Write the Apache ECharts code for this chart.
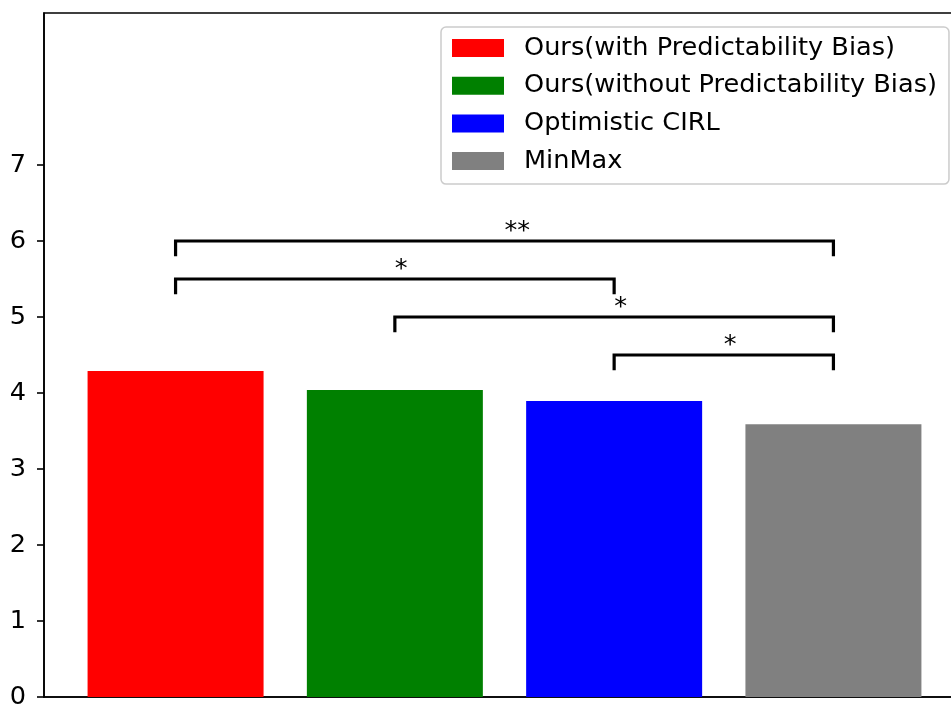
<!DOCTYPE html>
<html>
<head>
<meta charset="utf-8">
<script src="https://cdn.jsdelivr.net/npm/echarts@6/dist/echarts.min.js"></script>
<style>
html,body{margin:0;padding:0;background:#fff;}
#chart{width:951px;height:705px;}
</style>
</head>
<body>
<div id="chart"></div>
<script>
const methods = ['Ours(with Predictability Bias)', 'Ours(without Predictability Bias)', 'Optimistic CIRL', 'MinMax'];
const scores = [4.29, 4.04, 3.895, 3.59];
const colors = ['#ff0000', '#008000', '#0000ff', '#808080'];
const yTicks = [0, 1, 2, 3, 4, 5, 6, 7];
const bracketStart = [0, 0, 1, 2];
const bracketEnd = [3, 2, 3, 3];
const bracketHeight = [6, 5.5, 5, 4.5];
const bracketLabel = ['**', '*', '*', '*'];
const bracketDrop = 0.2;

const FONT = 'DejaVu Sans';
const chart = echarts.init(document.getElementById('chart'), null, {renderer: 'canvas'});

const barSeries = methods.map((m, i) => ({
  name: m,
  type: 'bar',
  data: [[i, scores[i]]],
  barWidth: 176,
  barGap: '-100%',
  itemStyle: {color: colors[i]},
  emphasis: {disabled: true},
  z: 2
}));

const bracketSeries = {
  type: 'custom',
  name: 'brackets',
  silent: true,
  z: 5,
  data: bracketStart.map((s, i) => [s, bracketEnd[i], bracketHeight[i]]),
  renderItem: function (params, api) {
    const x1 = api.value(0), x2 = api.value(1), h = api.value(2);
    const lbl = bracketLabel[params.dataIndex];
    const p1 = api.coord([x1, h - bracketDrop]);
    const p2 = api.coord([x1, h]);
    const p3 = api.coord([x2, h]);
    const p4 = api.coord([x2, h - bracketDrop]);
    const mid = api.coord([(x1 + x2) / 2, h]);
    return {
      type: 'group',
      children: [
        {
          type: 'polyline',
          shape: {points: [p1, p2, p3, p4]},
          style: {stroke: '#000', lineWidth: 3.2, fill: null, lineJoin: 'miter', lineCap: 'butt'}
        },
        {
          type: 'text',
          x: mid[0],
          y: mid[1] - 9.5,
          style: {
            text: lbl,
            fill: '#000',
            font: '25.6px "DejaVu Sans"',
            align: 'left',
            verticalAlign: 'middle'
          }
        }
      ]
    };
  }
};

chart.setOption({
  animation: false,
  backgroundColor: '#fff',
  textStyle: {fontFamily: FONT},
  grid: {
    left: 44, right: -14, top: 13, bottom: 8,
    containLabel: false,
    outerBoundsMode: 'none',
    show: true, borderColor: '#000', borderWidth: 1.6, backgroundColor: 'transparent'
  },
  legend: {
    data: methods,
    orient: 'vertical',
    left: 441,
    top: 27,
    padding: [8, 12, 10, 11],
    itemWidth: 52,
    itemHeight: 18,
    itemGap: 11.7,
    icon: 'rect',
    backgroundColor: 'rgba(255,255,255,0.8)',
    borderColor: '#cccccc',
    borderWidth: 1.5,
    borderRadius: 5,
    selectedMode: false,
    textStyle: {
      fontFamily: FONT,
      fontSize: 25.6,
      lineHeight: 25,
      color: '#000',
      padding: [0, 0, 0, 15]
    }
  },
  xAxis: {
    type: 'value',
    min: -0.6,
    max: 3.6,
    axisLine: {show: true, onZero: false, lineStyle: {color: '#000', width: 1.6}},
    axisTick: {show: false},
    axisLabel: {show: false},
    splitLine: {show: false}
  },
  yAxis: {
    type: 'value',
    min: 0,
    max: 9,
    interval: 1,
    axisLine: {show: true, onZero: false, lineStyle: {color: '#000', width: 1.6}},
    axisTick: {show: true, length: 7, customValues: yTicks, lineStyle: {color: '#000', width: 1.6}},
    axisLabel: {
      show: true,
      customValues: yTicks,
      margin: 18,
      fontFamily: FONT,
      fontSize: 25.6,
      color: '#000'
    },
    splitLine: {show: false}
  },
  series: barSeries.concat([bracketSeries])
});
</script>
</body>
</html>
